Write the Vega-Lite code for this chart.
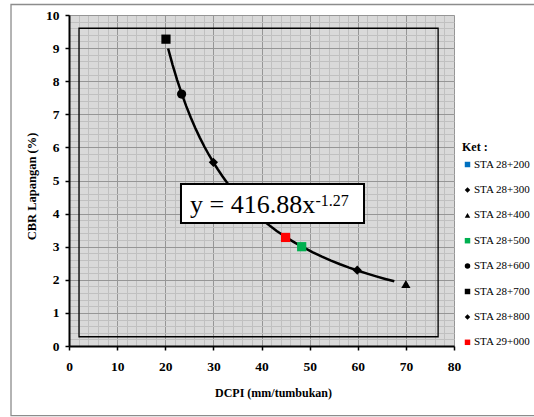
{
  "$schema": "https://vega.github.io/schema/vega-lite/v6.json",
  "width": 385,
  "height": 331,
  "autosize": {"type": "none"},
  "padding": {"left": 69, "top": 15, "right": 80, "bottom": 71},
  "background": "white",
  "config": {
    "font": "Liberation Serif",
    "view": {"fill": "#d9d9d9", "stroke": null},
    "axis": {"labelFont": "Liberation Serif", "titleFont": "Liberation Serif"},
    "legend": {"labelFont": "Liberation Serif", "titleFont": "Liberation Serif"},
    "text": {"font": "Liberation Serif"}
  },
  "datasets": {
    "frame": [{"x1": -12.05, "x2": 97.9, "y1": 10.317, "y2": -2.106}],
    "inner": [{"x1": 2.08, "x2": 76.7, "y1": 9.6, "y2": 0.28}],
    "points": [
      {"sta": "STA 28+200", "dcpi": 35, "cbr": 4.56},
      {"sta": "STA 28+300", "dcpi": 59.9, "cbr": 2.29},
      {"sta": "STA 28+400", "dcpi": 70, "cbr": 1.87},
      {"sta": "STA 28+500", "dcpi": 48.35, "cbr": 3.0},
      {"sta": "STA 28+600", "dcpi": 23.4, "cbr": 7.61},
      {"sta": "STA 28+700", "dcpi": 20.15, "cbr": 9.27},
      {"sta": "STA 28+800", "dcpi": 30, "cbr": 5.55},
      {"sta": "STA 29+000", "dcpi": 45, "cbr": 3.28}
    ],
    "box": [{"x1": 23.27, "x2": 61.3, "y1": 4.894, "y2": 3.716}],
    "eq": [{"label": "y = 416.88x", "x": 25.14, "y": 4.009}],
    "sup": [{"label": "-1.27", "x": 51.2, "y": 4.23}]
  },
  "layer": [
    {
      "data": {"name": "frame"},
      "mark": {"type": "rect", "fill": "transparent", "stroke": "#8c8c8c", "strokeWidth": 1.3},
      "encoding": {
        "x": {
          "field": "x1", "type": "quantitative",
          "scale": {"domain": [0, 80], "nice": false, "zero": false},
          "axis": {
            "orient": "top",
            "values": [0,2,4,6,8,10,12,14,16,18,20,22,24,26,28,30,32,34,36,38,40,42,44,46,48,50,52,54,56,58,60,62,64,66,68,70,72,74,76,78,80],
            "grid": true, "gridColor": "#c0c0c0", "gridWidth": 1,
            "domain": false, "ticks": false, "labels": false, "title": null
          }
        },
        "x2": {"field": "x2"},
        "y": {
          "field": "y1", "type": "quantitative",
          "scale": {"domain": [0, 10], "nice": false, "zero": false},
          "axis": {
            "orient": "right",
            "values": [0,0.2,0.4,0.6,0.8,1,1.2,1.4,1.6,1.8,2,2.2,2.4,2.6,2.8,3,3.2,3.4,3.6,3.8,4,4.2,4.4,4.6,4.8,5,5.2,5.4,5.6,5.8,6,6.2,6.4,6.6,6.8,7,7.2,7.4,7.6,7.8,8,8.2,8.4,8.6,8.8,9,9.2,9.4,9.6,9.8,10],
            "grid": true, "gridColor": "#c0c0c0", "gridWidth": 1,
            "domain": false, "ticks": false, "labels": false, "title": null
          }
        },
        "y2": {"field": "y2"}
      }
    },
    {
      "data": {"name": "inner"},
      "mark": {"type": "rect", "fill": "transparent", "stroke": "black", "strokeWidth": 1.3},
      "encoding": {
        "x": {
          "field": "x1", "type": "quantitative",
          "axis": {
            "orient": "bottom",
            "values": [0,10,20,30,40,50,60,70,80],
            "grid": true, "gridColor": "#969696", "gridWidth": 1,
            "domain": true, "domainColor": "black", "domainWidth": 2,
            "ticks": true, "tickColor": "black", "tickSize": 4, "tickWidth": 1.5,
            "labelFlush": false, "labelFont": "Liberation Serif", "labelFontSize": 13.5, "labelFontWeight": "bold", "labelColor": "black", "labelPadding": 9,
            "title": "DCPI (mm/tumbukan)", "titleFont": "Liberation Serif", "titleFontSize": 12, "titleFontWeight": "bold", "titleColor": "black",
            "titleX": 204, "titleY": 41
          }
        },
        "x2": {"field": "x2"},
        "y": {
          "field": "y1", "type": "quantitative",
          "axis": {
            "orient": "left",
            "values": [0,1,2,3,4,5,6,7,8,9,10],
            "grid": true, "gridColor": "#969696", "gridWidth": 1,
            "domain": true, "domainColor": "black", "domainWidth": 2,
            "ticks": true, "tickColor": "black", "tickSize": 4, "tickWidth": 1.5,
            "labelFont": "Liberation Serif", "labelFontSize": 13.5, "labelFontWeight": "bold", "labelColor": "black", "labelPadding": 6,
            "title": "CBR  Lapangan (%)", "titleFont": "Liberation Serif", "titleFontSize": 12.5, "titleFontWeight": "bold", "titleColor": "black",
            "titleX": -31, "titleY": 171
          }
        },
        "y2": {"field": "y2"}
      }
    },
    {
      "data": {"name": "points"},
      "transform": [
        {"regression": "cbr", "on": "dcpi", "method": "pow", "extent": [20.6, 67.6]}
      ],
      "mark": {"type": "line", "color": "black", "strokeWidth": 2.5},
      "encoding": {
        "x": {"field": "dcpi", "type": "quantitative", "axis": null},
        "y": {"field": "cbr", "type": "quantitative", "axis": null}
      }
    },
    {
      "data": {"name": "points"},
      "mark": {"type": "point", "filled": true, "size": 85, "opacity": 1, "strokeWidth": 0},
      "encoding": {
        "x": {"field": "dcpi", "type": "quantitative", "axis": null},
        "y": {"field": "cbr", "type": "quantitative", "axis": null},
        "color": {
          "field": "sta", "type": "nominal",
          "scale": {
            "domain": ["STA 28+200","STA 28+300","STA 28+400","STA 28+500","STA 28+600","STA 28+700","STA 28+800","STA 29+000"],
            "range": ["#0070C0","black","black","#00B050","black","black","black","#FF0000"]
          },
          "legend": {
            "title": "Ket :", "orient": "none", "legendX": 393, "legendY": 127, "padding": 0,
            "titleFont": "Liberation Serif", "titleFontSize": 12, "titleFontWeight": "bold", "titleColor": "black", "titlePadding": 5,
            "labelFont": "Liberation Serif", "labelFontSize": 11, "labelColor": "black", "labelOffset": 1, "labelLimit": 200,
            "symbolSize": 30, "rowPadding": 13.4, "symbolStrokeWidth": 0
          }
        },
        "shape": {
          "field": "sta", "type": "nominal",
          "scale": {
            "domain": ["STA 28+200","STA 28+300","STA 28+400","STA 28+500","STA 28+600","STA 28+700","STA 28+800","STA 29+000"],
            "range": ["square","diamond","triangle-up","square","circle","square","diamond","square"]
          },
          "legend": {
            "title": "Ket :", "orient": "none", "legendX": 393, "legendY": 127, "padding": 0,
            "titleFont": "Liberation Serif", "titleFontSize": 12, "titleFontWeight": "bold", "titleColor": "black", "titlePadding": 5,
            "labelFont": "Liberation Serif", "labelFontSize": 11, "labelColor": "black", "labelOffset": 1, "labelLimit": 200,
            "symbolSize": 30, "rowPadding": 13.4, "symbolStrokeWidth": 0
          }
        }
      }
    },
    {
      "data": {"name": "box"},
      "mark": {"type": "rect", "fill": "white", "stroke": "black", "strokeWidth": 2},
      "encoding": {
        "x": {"field": "x1", "type": "quantitative", "axis": null},
        "x2": {"field": "x2"},
        "y": {"field": "y1", "type": "quantitative", "axis": null},
        "y2": {"field": "y2"}
      }
    },
    {
      "data": {"name": "eq"},
      "mark": {"type": "text", "align": "left", "baseline": "alphabetic", "fontSize": 26, "color": "black", "font": "Liberation Serif"},
      "encoding": {
        "x": {"field": "x", "type": "quantitative", "axis": null},
        "y": {"field": "y", "type": "quantitative", "axis": null},
        "text": {"field": "label"}
      }
    },
    {
      "data": {"name": "sup"},
      "mark": {"type": "text", "align": "left", "baseline": "alphabetic", "fontSize": 16, "color": "black", "font": "Liberation Serif"},
      "encoding": {
        "x": {"field": "x", "type": "quantitative", "axis": null},
        "y": {"field": "y", "type": "quantitative", "axis": null},
        "text": {"field": "label"}
      }
    }
  ],
  "resolve": {"axis": {"x": "independent", "y": "independent"}}
}
